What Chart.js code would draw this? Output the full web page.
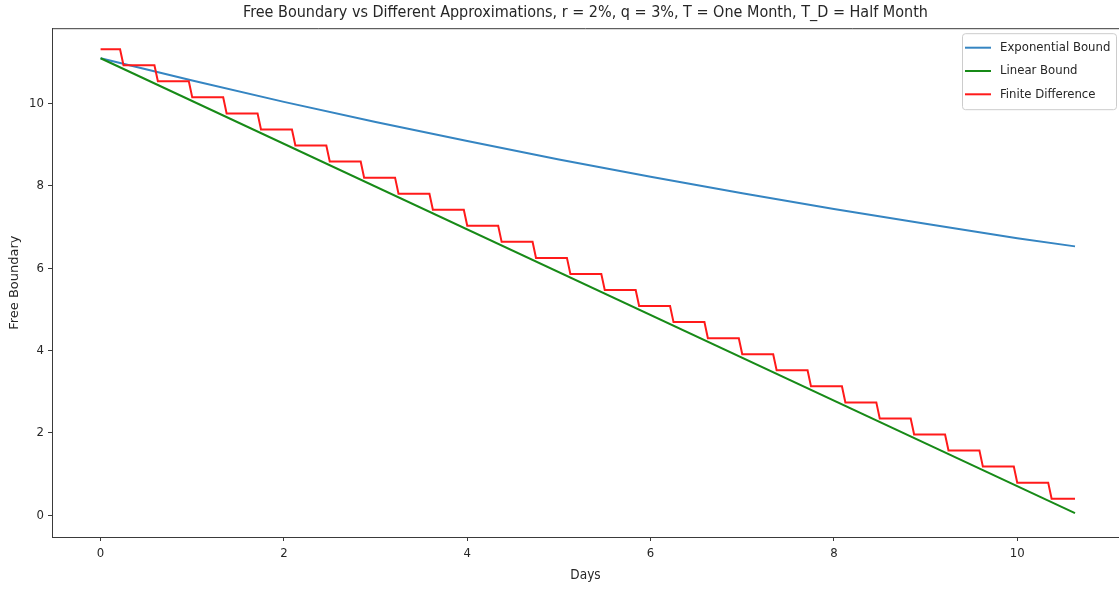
<!DOCTYPE html>
<html>
<head>
<meta charset="utf-8">
<script src="https://cdn.jsdelivr.net/npm/chart.js@4.4.1/dist/chart.umd.min.js"></script>
<style>
    html, body {
        margin: 0;
        padding: 0;
        background: #ffffff;
    }

    .chart-container {
        width: 1119px;
        height: 589px;
    }
</style>
</head>
<body>
<div class="chart-container">
    <canvas id="boundaryChart" width="1119" height="589"></canvas>
</div>
<script>
// values
const expDays = [0, 1, 2, 3, 4, 5, 6, 7, 8, 9, 10, 10.63];
const expBound = [11.1, 10.56, 10.04, 9.55, 9.09, 8.64, 8.22, 7.82, 7.44, 7.08, 6.73, 6.53];

const linearDays = [0, 10.63];
const linearBound = [11.1, 0.05];

// finite difference: one flat level per entry, from stepStart to stepEnd
const stepStart = [
    0, 0.25, 0.625, 1.0, 1.375, 1.75, 2.125, 2.5, 2.875, 3.25, 3.625, 4.0, 4.375, 4.75, 5.125,
    5.5, 5.875, 6.25, 6.625, 7.0, 7.375, 7.75, 8.125, 8.5, 8.875, 9.25, 9.625, 10.0, 10.375,
];
const stepEnd = [
    0.2125, 0.5875, 0.9625, 1.3375, 1.7125, 2.0875, 2.4625, 2.8375, 3.2125, 3.5875, 3.9625,
    4.3375, 4.7125, 5.0875, 5.4625, 5.8375, 6.2125, 6.5875, 6.9625, 7.3375, 7.7125, 8.0875,
    8.4625, 8.8375, 9.2125, 9.5875, 9.9625, 10.3375, 10.63,
];
const stepLevel = [
    11.32, 10.93, 10.54, 10.15, 9.76, 9.37, 8.98, 8.59, 8.2, 7.81, 7.42, 7.03, 6.64, 6.25, 5.86,
    5.47, 5.08, 4.69, 4.3, 3.91, 3.52, 3.13, 2.74, 2.35, 1.96, 1.57, 1.18, 0.79, 0.4,
];

const xTicks = [0, 2, 4, 6, 8, 10];
const yTicks = [0, 2, 4, 6, 8, 10];

const CONDENSED = "'DejaVu Sans Condensed', 'DejaVu Sans', sans-serif";
const TEXT = "#262626";
const SPINE = "#3a3a3a";

const toPoints = (xs, ys) => xs.map((x, i) => ({ x: x, y: ys[i] }));

const stepPoints = [];
for (let i = 0; i < stepLevel.length; i++) {
    stepPoints.push({ x: stepStart[i], y: stepLevel[i] });
    stepPoints.push({ x: stepEnd[i], y: stepLevel[i] });
}

Chart.defaults.font.family = CONDENSED;
Chart.defaults.color = TEXT;

// top spine + legend box inside the plot, like matplotlib's "best" location
const framePlugin = {
    id: "frame",
    afterDraw(chart) {
        const { ctx, chartArea } = chart;
        ctx.save();
        ctx.strokeStyle = SPINE;
        ctx.lineWidth = 1;
        ctx.beginPath();
        ctx.moveTo(chartArea.left, chartArea.top + 0.5);
        ctx.lineTo(chartArea.right, chartArea.top + 0.5);
        ctx.stroke();

        const boxX = chartArea.right - 157;
        const boxY = chartArea.top + 5;
        const boxW = 154;
        const boxH = 76;
        ctx.fillStyle = "rgba(255, 255, 255, 0.85)";
        ctx.strokeStyle = "#cccccc";
        ctx.beginPath();
        ctx.roundRect(boxX + 0.5, boxY + 0.5, boxW, boxH, 3);
        ctx.fill();
        ctx.stroke();

        ctx.font = "13px " + CONDENSED;
        ctx.textBaseline = "middle";
        ctx.textAlign = "left";
        chart.data.datasets.forEach((ds, i) => {
            const rowY = boxY + 14.5 + i * 23.3;
            ctx.strokeStyle = ds.borderColor;
            ctx.lineWidth = 2;
            ctx.beginPath();
            ctx.moveTo(boxX + 3, rowY);
            ctx.lineTo(boxX + 29, rowY);
            ctx.stroke();
            ctx.fillStyle = TEXT;
            ctx.fillText(ds.label, boxX + 38, rowY);
        });
        ctx.restore();
    },
};

const ctx = document.getElementById("boundaryChart").getContext("2d");

new Chart(ctx, {
    type: "line",
    data: {
        datasets: [
            {
                label: "Exponential Bound",
                data: toPoints(expDays, expBound),
                borderColor: "#3585c2",
                borderWidth: 2,
                order: 3,
            },
            {
                label: "Linear Bound",
                data: toPoints(linearDays, linearBound),
                borderColor: "#178a17",
                borderWidth: 2,
                order: 2,
            },
            {
                label: "Finite Difference",
                data: stepPoints,
                borderColor: "#ff1a1a",
                borderWidth: 2,
                order: 1,
            },
        ],
    },
    options: {
        responsive: false,
        animation: false,
        events: [],
        elements: {
            point: { radius: 0 },
            line: { tension: 0, fill: false },
        },
        layout: { padding: 0 },
        plugins: {
            legend: { display: false },
            tooltip: { enabled: false },
            title: {
                display: true,
                fullSize: false,
                text: "Free Boundary vs Different Approximations, r = 2%, q = 3%, T = One Month, T_D = Half Month",
                color: TEXT,
                font: { size: 16, weight: "normal", family: CONDENSED },
                padding: { top: 3, bottom: 6 },
            },
        },
        scales: {
            x: {
                type: "linear",
                min: -0.53,
                max: 11.11,
                afterFit: (scale) => {
                    scale.height = 52;
                },
                afterBuildTicks: (scale) => {
                    scale.ticks = xTicks.map((v) => ({ value: v }));
                },
                ticks: {
                    font: { size: 13 },
                    padding: 5,
                    maxRotation: 0,
                },
                grid: {
                    drawOnChartArea: false,
                    drawTicks: true,
                    tickLength: 4,
                    color: SPINE,
                },
                border: { display: true, color: SPINE, width: 1 },
                title: {
                    display: true,
                    text: "Days",
                    font: { size: 13.5 },
                    padding: { top: 0, bottom: 5 },
                },
            },
            y: {
                type: "linear",
                min: -0.53,
                max: 11.83,
                afterFit: (scale) => {
                    scale.width = 52;
                },
                afterBuildTicks: (scale) => {
                    scale.ticks = yTicks.map((v) => ({ value: v }));
                },
                ticks: {
                    font: { size: 13 },
                    padding: 4,
                },
                grid: {
                    drawOnChartArea: false,
                    drawTicks: true,
                    tickLength: 4,
                    color: SPINE,
                },
                border: { display: true, color: SPINE, width: 1 },
                title: {
                    display: true,
                    text: "Free Boundary",
                    font: { size: 13, family: "'DejaVu Sans', sans-serif" },
                    padding: { top: 7, bottom: 0 },
                },
            },
        },
    },
    plugins: [framePlugin],
});
</script>
</body>
</html>
